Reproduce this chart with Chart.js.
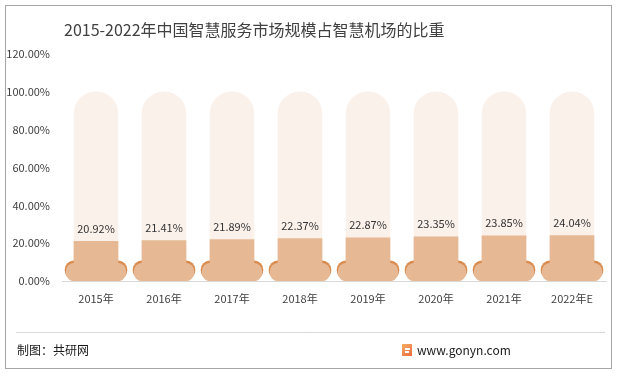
<!DOCTYPE html>
<html>
<head>
<meta charset="utf-8">
<script src="https://cdn.jsdelivr.net/npm/chart.js@4/dist/chart.umd.min.js"></script>
<style>
html,body{margin:0;padding:0;background:#fff;}
#wrap{position:relative;width:618px;height:376px;}
</style>
</head>
<body>
<div id="wrap"><canvas id="c" width="618" height="376"></canvas></div>
<script>
const categories = ['2015年','2016年','2017年','2018年','2019年','2020年','2021年','2022年E'];
const shareValues = [20.92, 21.41, 21.89, 22.37, 22.87, 23.35, 23.85, 24.04];
const fullValues = [100, 100, 100, 100, 100, 100, 100, 100];
const yTicks = [0, 20, 40, 60, 80, 100, 120];
const titleText = '2015-2022年中国智慧服务市场规模占智慧机场的比重';
const sourceText = '制图：共研网';
const siteText = 'www.gonyn.com';

const baseLight = categories.map(() => [0, 9.5]);
const baseDark = categories.map(() => [1, 10.6]);

const FONT = "'Noto Sans CJK SC', 'Noto Sans', sans-serif";

const decor = {
  id: 'decor',
  beforeDraw(chart) {
    const ctx = chart.ctx;
    ctx.save();
    ctx.fillStyle = '#ffffff';
    ctx.fillRect(0, 0, chart.width, chart.height);
    ctx.strokeStyle = '#a6a6a6';
    ctx.lineWidth = 1;
    ctx.strokeRect(5.5, 5.5, 606, 363);
    ctx.restore();
  },
  afterDraw(chart) {
    const ctx = chart.ctx;
    ctx.save();
    // title
    ctx.fillStyle = '#404040';
    ctx.font = "16px " + FONT;
    ctx.textAlign = 'left';
    ctx.textBaseline = 'middle';
    ctx.fillText(titleText, 64, 30);
    // value labels
    const meta = chart.getDatasetMeta(0);
    ctx.font = "11px " + FONT;
    ctx.fillStyle = '#333333';
    ctx.textAlign = 'center';
    meta.data.forEach((el, i) => {
      ctx.fillText(shareValues[i].toFixed(2) + '%', el.x, el.y - 13);
    });
    // footer line
    ctx.strokeStyle = '#d9d9d9';
    ctx.beginPath();
    ctx.moveTo(16, 332.5);
    ctx.lineTo(605, 332.5);
    ctx.stroke();
    ctx.fillStyle = '#1a1a1a';
    ctx.font = "12px " + FONT;
    ctx.textAlign = 'left';
    ctx.fillText(sourceText, 17, 350);
    // logo
    const g = ctx.createLinearGradient(402, 343, 412, 356);
    g.addColorStop(0, '#f7b267');
    g.addColorStop(1, '#ec6b3d');
    ctx.fillStyle = g;
    ctx.fillRect(402, 344, 10, 12);
    ctx.fillStyle = '#ffffff';
    ctx.fillRect(405, 348, 5, 2);
    ctx.fillRect(405, 351, 4, 2);
    ctx.fillStyle = '#1a1a1a';
    ctx.font = "12px " + FONT;
    ctx.fillText(siteText, 417, 350);
    ctx.restore();
  }
};

new Chart(document.getElementById('c'), {
  type: 'bar',
  data: {
    labels: categories,
    datasets: [
      {
        label: 'share',
        data: shareValues,
        backgroundColor: '#e6b894',
        barThickness: 44,
        grouped: false,
        order: 0
      },
      {
        label: 'baseLight',
        data: baseLight,
        backgroundColor: '#e6b894',
        barThickness: 60,
        borderRadius: 10,
        borderSkipped: false,
        grouped: false,
        order: 1
      },
      {
        label: 'baseDark',
        data: baseDark,
        backgroundColor: '#d98c4e',
        barThickness: 62,
        borderRadius: 10,
        borderSkipped: false,
        grouped: false,
        order: 2
      },
      {
        label: 'full',
        data: fullValues,
        backgroundColor: '#fbf1eb',
        barThickness: 44,
        borderRadius: {topLeft: 22, topRight: 22, bottomLeft: 0, bottomRight: 0},
        borderSkipped: false,
        grouped: false,
        order: 3
      }
    ]
  },
  options: {
    responsive: false,
    animation: false,
    layout: {padding: {left: 5, right: 12, top: 54, bottom: 0}},
    plugins: {legend: {display: false}, tooltip: {enabled: false}},
    scales: {
      x: {
        offset: true,
        grid: {display: false, drawTicks: false},
        border: {display: true, color: '#d9d9d9', width: 1},
        ticks: {padding: 11, color: '#404040', font: {family: FONT, size: 11}},
        afterFit: s => { s.height = 95; }
      },
      y: {
        min: 0,
        max: 120,
        afterBuildTicks: s => { s.ticks = yTicks.map(v => ({value: v})); },
        grid: {display: false, drawTicks: false},
        border: {display: false},
        ticks: {padding: 12, color: '#404040', font: {family: FONT, size: 11},
          callback: v => Number(v).toFixed(2) + '%'},
        afterFit: s => { s.width = 57; }
      }
    }
  },
  plugins: [decor]
});
</script>
</body>
</html>
